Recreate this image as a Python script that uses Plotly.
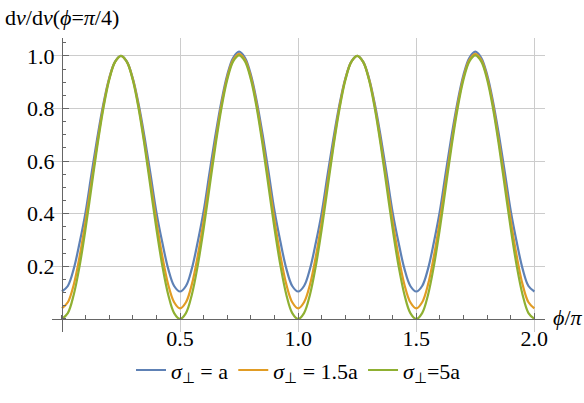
import plotly.graph_objects as go

# phi/pi sample points
phi = [0.000, 0.025, 0.050, 0.075, 0.100, 0.125, 0.150, 0.175, 0.200, 0.225,
       0.250, 0.275, 0.300, 0.325, 0.350, 0.375, 0.400, 0.425, 0.450, 0.475,
       0.500, 0.525, 0.550, 0.575, 0.600, 0.625, 0.650, 0.675, 0.700, 0.725,
       0.750, 0.775, 0.800, 0.825, 0.850, 0.875, 0.900, 0.925, 0.950, 0.975,
       1.000, 1.025, 1.050, 1.075, 1.100, 1.125, 1.150, 1.175, 1.200, 1.225,
       1.250, 1.275, 1.300, 1.325, 1.350, 1.375, 1.400, 1.425, 1.450, 1.475,
       1.500, 1.525, 1.550, 1.575, 1.600, 1.625, 1.650, 1.675, 1.700, 1.725,
       1.750, 1.775, 1.800, 1.825, 1.850, 1.875, 1.900, 1.925, 1.950, 1.975,
       2.000]

sigma_a = [0.104, 0.125, 0.190, 0.290, 0.405, 0.550, 0.690, 0.815, 0.915, 0.978,
           1.000, 0.978, 0.915, 0.815, 0.690, 0.550, 0.405, 0.290, 0.190, 0.125,
           0.104, 0.125, 0.191, 0.293, 0.410, 0.557, 0.699, 0.826, 0.928, 0.993,
           1.016, 0.993, 0.928, 0.826, 0.699, 0.557, 0.410, 0.293, 0.191, 0.125,
           0.104, 0.125, 0.190, 0.290, 0.405, 0.550, 0.690, 0.815, 0.915, 0.978,
           1.000, 0.978, 0.915, 0.815, 0.690, 0.550, 0.405, 0.290, 0.190, 0.125,
           0.104, 0.125, 0.191, 0.293, 0.410, 0.557, 0.699, 0.826, 0.928, 0.993,
           1.016, 0.993, 0.928, 0.826, 0.699, 0.557, 0.410, 0.293, 0.191, 0.125,
           0.104]

sigma_15a = [0.040, 0.063, 0.130, 0.238, 0.371, 0.520, 0.669, 0.806, 0.912, 0.977,
             1.000, 0.977, 0.912, 0.806, 0.669, 0.520, 0.371, 0.238, 0.130, 0.063,
             0.040, 0.063, 0.131, 0.240, 0.374, 0.524, 0.674, 0.812, 0.919, 0.985,
             1.008, 0.985, 0.919, 0.812, 0.674, 0.524, 0.374, 0.240, 0.131, 0.063,
             0.040, 0.063, 0.130, 0.238, 0.371, 0.520, 0.669, 0.806, 0.912, 0.977,
             1.000, 0.977, 0.912, 0.806, 0.669, 0.520, 0.371, 0.238, 0.130, 0.063,
             0.040, 0.063, 0.131, 0.240, 0.374, 0.524, 0.674, 0.812, 0.919, 0.985,
             1.008, 0.985, 0.919, 0.812, 0.674, 0.524, 0.374, 0.240, 0.131, 0.063,
             0.040]

sigma_5a = [0.000, 0.022, 0.092, 0.202, 0.342, 0.500, 0.658, 0.798, 0.908, 0.977,
            1.000, 0.977, 0.908, 0.798, 0.658, 0.500, 0.342, 0.202, 0.092, 0.022,
            0.000, 0.022, 0.092, 0.203, 0.343, 0.501, 0.659, 0.800, 0.910, 0.979,
            1.002, 0.979, 0.910, 0.800, 0.659, 0.501, 0.343, 0.203, 0.092, 0.022,
            0.000, 0.022, 0.092, 0.202, 0.342, 0.500, 0.658, 0.798, 0.908, 0.977,
            1.000, 0.977, 0.908, 0.798, 0.658, 0.500, 0.342, 0.202, 0.092, 0.022,
            0.000, 0.022, 0.092, 0.203, 0.343, 0.501, 0.659, 0.800, 0.910, 0.979,
            1.002, 0.979, 0.910, 0.800, 0.659, 0.501, 0.343, 0.203, 0.092, 0.022,
            0.000]

series_names = ["<i>σ</i><sub>⊥</sub> = a", "<i>σ</i><sub>⊥</sub> = 1.5a", "<i>σ</i><sub>⊥</sub>=5a"]
colors = ["#5E81B5", "#E19C24", "#8FB032"]

x_ticks = [0.5, 1.0, 1.5, 2.0]
x_ticktext = ["0.5", "1.0", "1.5", "2.0"]
y_ticks = [0.2, 0.4, 0.6, 0.8, 1.0]
y_ticktext = ["0.2", "0.4", "0.6", "0.8", "1.0"]

x_range = [-0.042, 2.045]
y_range = [-0.05, 1.068]

FONT = "Liberation Serif"
AXIS = "#666666"
SIZE = 22

fig = go.Figure()
for name, ys, col in zip(series_names, [sigma_a, sigma_15a, sigma_5a], colors):
    fig.add_scatter(x=phi, y=ys, mode="lines", name=name,
                    line=dict(color=col, width=2.2, shape="spline"))

fig.update_xaxes(
    range=x_range, anchor="free", automargin=False,
    position=(0 - y_range[0]) / (y_range[1] - y_range[0]),
    tickmode="array", tickvals=x_ticks, ticktext=x_ticktext,
    ticks="inside", ticklen=6, tickcolor=AXIS,
    showline=True, linecolor=AXIS, linewidth=1,
    showgrid=True, gridcolor="#cccccc", gridwidth=1, zeroline=False,
    minor=dict(tickmode="linear", tick0=0, dtick=0.1, ticks="inside",
               ticklen=3.5, tickcolor=AXIS, showgrid=False),
    tickfont=dict(family=FONT, size=SIZE, color="black"),
)
fig.update_yaxes(
    range=y_range, anchor="free", automargin=False,
    position=(0 - x_range[0]) / (x_range[1] - x_range[0]),
    tickmode="array", tickvals=y_ticks, ticktext=y_ticktext,
    ticks="inside", ticklen=6, tickcolor=AXIS,
    showline=True, linecolor=AXIS, linewidth=1,
    showgrid=True, gridcolor="#cccccc", gridwidth=1, zeroline=False,
    minor=dict(tickmode="linear", tick0=0, dtick=0.05, ticks="inside",
               ticklen=3.5, tickcolor=AXIS, showgrid=False),
    tickfont=dict(family=FONT, size=SIZE, color="black"),
    ticklabelstandoff=3,
)

fig.add_annotation(text="d<i>ν</i>/d<i>ν</i>(<i>ϕ</i>=<i>π</i>/4)", xref="paper", yref="paper",
                   x=-0.1, y=1.07, xanchor="left", yanchor="middle", showarrow=False,
                   font=dict(family=FONT, size=SIZE, color="black"))
fig.add_annotation(text="<i>ϕ</i>/<i>π</i>", xref="paper", yref="paper",
                   x=1.012, y=0.05, xanchor="left", yanchor="middle", showarrow=False,
                   font=dict(family=FONT, size=SIZE, color="black"))

fig.update_layout(
    width=584, height=403,
    margin=dict(l=52, r=39, t=38, b=63),
    paper_bgcolor="white", plot_bgcolor="white",
    font=dict(family=FONT, size=SIZE, color="black"),
    showlegend=True,
    legend=dict(orientation="h", x=0.5, xanchor="center", y=-0.13, yanchor="middle",
                font=dict(family=FONT, size=SIZE, color="black"),
                itemwidth=30, tracegroupgap=0),
)

# page body has a default 8px margin; drop it so the figure sits at the window corner
fig.write_html("out.html", config={"displayModeBar": False},
               post_script="document.body.style.margin='0';")
